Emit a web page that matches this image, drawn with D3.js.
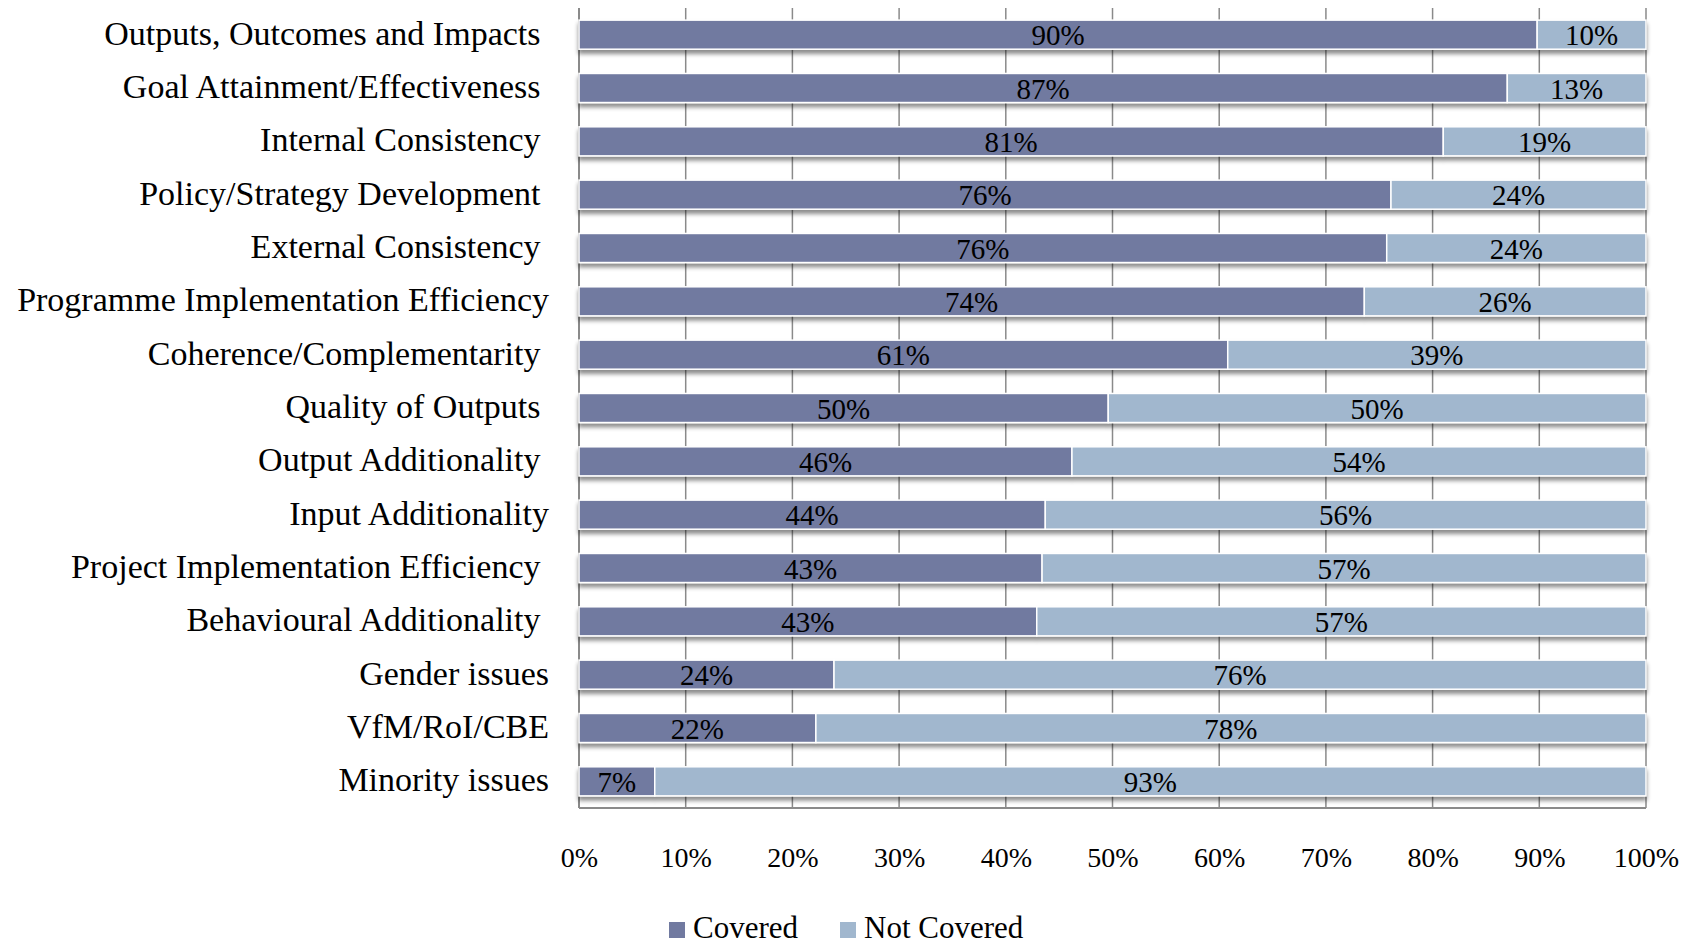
<!DOCTYPE html>
<html>
<head>
<meta charset="utf-8">
<script src="https://cdn.jsdelivr.net/npm/d3@7"></script>
<style>
  html, body { margin: 0; padding: 0; background: #fff; }
  svg { display: block; }
  text { font-family: "Liberation Serif", "Times New Roman", serif; fill: #000; }
  .cat { white-space: pre; }
</style>
</head>
<body>
<svg id="chart" width="1687" height="947"></svg>
<script>
// ---- data ----
const categories = [
  "Outputs, Outcomes and Impacts ",
  "Goal Attainment/Effectiveness ",
  "Internal Consistency ",
  "Policy/Strategy Development ",
  "External Consistency ",
  "Programme Implementation Efficiency",
  "Coherence/Complementarity ",
  "Quality of Outputs ",
  "Output Additionality ",
  "Input Additionality",
  "Project Implementation Efficiency ",
  "Behavioural Additionality ",
  "Gender issues",
  "VfM/RoI/CBE",
  "Minority issues"
];
const covered    = [0.898, 0.870, 0.810, 0.761, 0.757, 0.736, 0.608, 0.496, 0.462, 0.437, 0.434, 0.429, 0.239, 0.222, 0.071];
const notCovered = [0.102, 0.130, 0.190, 0.239, 0.243, 0.264, 0.392, 0.504, 0.538, 0.563, 0.566, 0.571, 0.761, 0.778, 0.929];
const seriesNames = ["Covered", "Not Covered"];
const seriesColors = ["#717AA0", "#A1B7CE"];
const tickValues = [0, 0.1, 0.2, 0.3, 0.4, 0.5, 0.6, 0.7, 0.8, 0.9, 1.0];

// ---- layout ----
const svg = d3.select("#chart");
const plot = { left: 579, right: 1646, top: 8, bottom: 808 };

const x = d3.scaleLinear().domain([0, 1]).range([plot.left, plot.right]);
const y = d3.scaleBand().domain(categories).range([plot.top, plot.bottom])
  .paddingInner(0.455).paddingOuter(0.2275);

const rows = categories.map((c, i) => ({ cat: c, vals: [covered[i], notCovered[i]] }));
const stacked = d3.stack().keys([0, 1]).value((d, k) => d.vals[k])(rows);

const defs = svg.append("defs");
const f = defs.append("filter").attr("id", "shadow")
  .attr("x", "-2%").attr("y", "-20%").attr("width", "104%").attr("height", "160%");
f.append("feDropShadow").attr("dx", 0).attr("dy", 4).attr("stdDeviation", 2.2)
  .attr("flood-color", "#000").attr("flood-opacity", 0.45);

// gridlines
svg.append("g").selectAll("line").data(tickValues).join("line")
  .attr("x1", d => x(d)).attr("x2", d => x(d))
  .attr("y1", plot.top).attr("y2", plot.bottom)
  .attr("stroke", "#8a8a8a").attr("stroke-width", 1.5);

// bottom axis line
svg.append("line")
  .attr("x1", plot.left).attr("x2", plot.right)
  .attr("y1", plot.bottom).attr("y2", plot.bottom)
  .attr("stroke", "#8a8a8a").attr("stroke-width", 2);
// left axis line
svg.append("line")
  .attr("x1", plot.left).attr("x2", plot.left)
  .attr("y1", plot.top).attr("y2", plot.bottom)
  .attr("stroke", "#8a8a8a").attr("stroke-width", 2);

// bars
const barG = svg.append("g");
rows.forEach((r, i) => {
  const g = barG.append("g").attr("filter", "url(#shadow)");
  stacked.forEach((s, k) => {
    const d = s[i];
    g.append("rect")
      .attr("x", x(d[0])).attr("width", x(d[1]) - x(d[0]))
      .attr("y", y(r.cat)).attr("height", y.bandwidth())
      .attr("fill", seriesColors[k])
      .attr("stroke", "#fff").attr("stroke-width", 1.5);
  });
});

// value labels
const fmt = d3.format(".0%");
const lab = svg.append("g");
rows.forEach((r, i) => {
  stacked.forEach((s, k) => {
    const d = s[i];
    lab.append("text")
      .attr("x", (x(d[0]) + x(d[1])) / 2)
      .attr("y", y(r.cat) + y.bandwidth() / 2 + 10.5)
      .attr("text-anchor", "middle")
      .attr("font-size", 29)
      .text(fmt(r.vals[k]));
  });
});

// category labels
svg.append("g").selectAll("text").data(categories).join("text")
  .attr("class", "cat")
  .attr("x", 549)
  .attr("y", d => y(d) + y.bandwidth() / 2 + 10)
  .attr("text-anchor", "end")
  .attr("font-size", 34)
  .text(d => d);

// x tick labels
const xAxis = d3.axisBottom(x).tickValues(tickValues).tickFormat(d3.format(".0%")).tickSize(0).tickPadding(0);
const ax = svg.append("g").attr("transform", `translate(0,${plot.bottom})`).call(xAxis);
ax.select(".domain").remove();
ax.selectAll("text")
  .attr("y", 59).attr("dy", 0)
  .attr("font-size", 28)
  .attr("font-family", "Liberation Serif, serif")
  .attr("fill", "#000");

// legend
const legendX = [669, 840];
const leg = svg.append("g");
seriesNames.forEach((n, k) => {
  leg.append("rect").attr("x", legendX[k]).attr("y", 922)
    .attr("width", 16).attr("height", 16).attr("fill", seriesColors[k]);
  leg.append("text").attr("x", legendX[k] + 24).attr("y", 938)
    .attr("font-size", 31).text(n);
});
</script>
</body>
</html>
